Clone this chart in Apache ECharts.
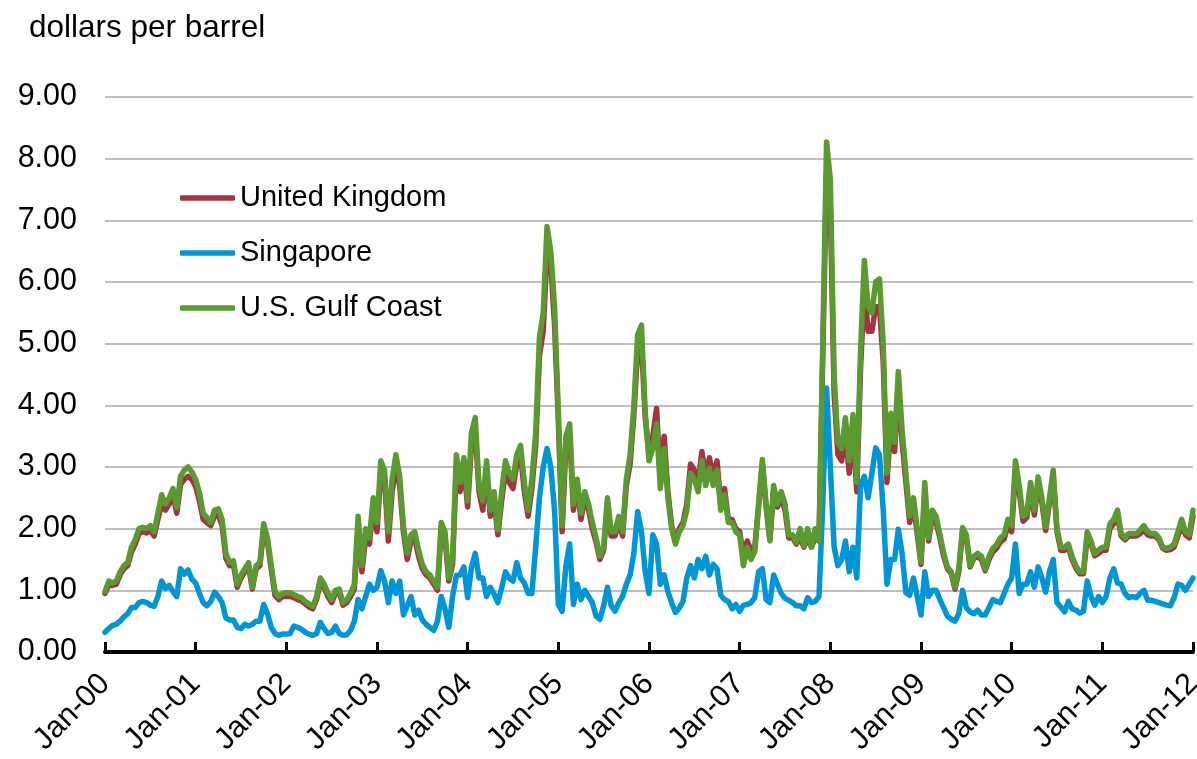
<!DOCTYPE html>
<html>
<head>
<meta charset="utf-8">
<title>Price spreads</title>
<script src="https://cdn.jsdelivr.net/npm/echarts@6/dist/echarts.min.js"></script>
<style>
  html, body { margin: 0; padding: 0; background: #ffffff; overflow: hidden; }
  #chart { width: 1197px; height: 759px; }
</style>
</head>
<body>
<div id="chart"></div>
<script>
// Semi-monthly readings (24 per year, starting 1 January), dollars per barrel.
const uk00 = [0.95,1.08,1.08,1.1,1.25,1.35,1.4,1.62,1.75,1.92,1.95,1.93,1.97,1.88,2.15,2.4,2.3,2.4,2.55,2.25,2.72,2.8,2.85,2.8];
const uk01 = [2.68,2.45,2.15,2.1,2.05,2.2,2.22,2.05,1.52,1.4,1.42,1.05,1.2,1.3,1.4,1.02,1.35,1.4,1.98,1.78,1.35,0.92,0.85,0.9];
const uk02 = [0.9,0.9,0.88,0.85,0.83,0.78,0.73,0.7,0.85,1.12,1.05,0.9,0.8,0.95,0.97,0.76,0.8,0.9,1.02,2.05,1.3,1.85,1.75,2.35];
const uk03 = [1.95,2.9,2.8,1.8,2.6,3.0,2.7,1.95,1.5,1.8,1.85,1.55,1.35,1.25,1.2,1.1,1.0,2.0,1.85,1.15,1.42,3.0,2.6,3.0];
const uk04 = [2.35,3.35,3.6,2.6,2.3,2.95,2.2,2.45,1.9,2.45,2.95,2.75,2.65,3.05,3.2,2.6,2.2,2.65,3.35,4.8,5.2,6.5,6.3,5.3];
const uk05 = [3.75,1.95,3.35,3.55,2.3,2.7,2.15,2.5,2.3,2.0,1.78,1.5,1.65,2.4,1.88,1.88,2.1,1.88,2.7,3.05,3.85,4.9,5.0,3.8];
const uk06 = [3.2,3.5,3.95,2.8,3.5,2.6,2.05,1.78,2.0,2.1,2.4,3.05,2.95,2.75,3.25,2.85,3.15,2.85,3.1,2.4,2.65,2.15,2.15,2.0];
const uk07 = [1.95,1.55,1.8,1.65,1.7,2.35,3.05,2.35,1.82,2.65,2.35,2.5,2.3,1.85,1.85,1.75,1.85,1.7,1.85,1.7,1.85,1.8,4.8,7.8];
const uk08 = [7.2,4.2,3.2,3.1,3.55,2.9,3.6,2.6,4.6,5.9,5.2,5.2,5.6,5.6,4.7,2.75,3.7,3.25,4.3,3.4,2.75,2.1,2.4,1.92];
const uk09 = [1.42,2.6,1.8,2.2,2.1,1.85,1.55,1.35,1.27,1.02,1.3,1.95,1.85,1.38,1.52,1.55,1.5,1.32,1.5,1.62,1.68,1.78,1.83,2.05];
const uk10 = [1.95,2.95,2.6,2.12,2.18,2.65,2.22,2.72,2.42,1.97,2.42,2.85,1.95,1.65,1.65,1.7,1.5,1.36,1.27,1.27,1.88,1.75,1.56,1.6];
const uk11 = [1.65,1.65,2.0,2.08,2.2,1.88,1.82,1.88,1.88,1.88,1.92,1.98,1.9,1.88,1.88,1.82,1.68,1.65,1.66,1.7,1.88,2.05,1.9,1.85];
const uk12 = [2.2];

const sg00 = [0.32,0.38,0.43,0.45,0.5,0.57,0.62,0.72,0.72,0.8,0.82,0.8,0.76,0.74,0.9,1.15,1.03,1.08,0.98,0.9,1.35,1.26,1.33,1.18];
const sg01 = [1.12,0.95,0.8,0.75,0.82,0.97,0.9,0.8,0.55,0.52,0.52,0.4,0.38,0.45,0.42,0.45,0.5,0.5,0.77,0.62,0.4,0.3,0.27,0.29];
const sg02 = [0.29,0.3,0.42,0.4,0.37,0.32,0.29,0.27,0.3,0.48,0.38,0.3,0.32,0.42,0.3,0.27,0.28,0.35,0.5,0.85,0.7,0.9,1.1,1.0];
const sg03 = [1.05,1.32,1.15,0.8,1.15,0.95,1.15,0.6,0.75,0.9,0.6,0.68,0.52,0.45,0.4,0.35,0.5,0.9,0.7,0.4,0.9,1.24,1.25,1.38];
const sg04 = [0.88,1.37,1.6,1.2,1.2,0.9,1.05,0.94,0.8,1.04,1.3,1.2,1.15,1.45,1.2,1.12,0.95,0.95,1.7,2.5,3.0,3.3,3.0,2.3];
const sg05 = [0.77,0.66,1.4,1.75,0.77,1.1,0.85,1.0,0.9,0.8,0.58,0.53,0.75,1.05,0.75,0.66,0.8,0.9,1.1,1.25,1.6,2.28,1.95,1.3];
const sg06 = [0.95,1.9,1.75,1.1,1.25,0.98,0.8,0.64,0.71,0.82,1.2,1.4,1.2,1.5,1.35,1.55,1.25,1.42,1.35,0.92,0.85,0.82,0.7,0.77];
const sg07 = [0.66,0.76,0.77,0.8,0.88,1.3,1.35,0.85,0.8,1.25,1.1,0.95,0.87,0.84,0.8,0.75,0.75,0.7,0.88,0.8,0.82,0.9,2.4,4.28];
const sg08 = [3.0,1.7,1.4,1.5,1.8,1.3,1.7,1.2,2.7,2.85,2.5,2.9,3.31,3.2,2.3,1.1,1.5,1.5,1.99,1.6,0.96,0.92,1.2,0.9];
const sg09 = [0.6,1.3,0.9,1.0,1.0,0.85,0.72,0.58,0.53,0.5,0.62,1.0,0.72,0.65,0.62,0.68,0.6,0.6,0.72,0.85,0.82,0.8,0.95,1.1];
const sg10 = [1.2,1.75,0.95,1.1,1.1,1.3,1.05,1.38,1.2,0.97,1.3,1.5,0.8,0.73,0.65,0.82,0.7,0.68,0.63,0.66,1.15,0.9,0.76,0.9];
const sg11 = [0.8,0.9,1.2,1.35,1.12,1.1,0.95,0.88,0.9,0.88,0.95,1.0,0.84,0.84,0.82,0.8,0.78,0.76,0.75,0.88,1.1,1.08,1.0,1.1];
const sg12 = [1.2];

const gc00 = [0.98,1.15,1.12,1.15,1.3,1.4,1.45,1.7,1.82,2.0,2.02,2.0,2.05,1.95,2.25,2.55,2.4,2.5,2.65,2.35,2.85,2.95,3.0,2.92];
const gc01 = [2.8,2.58,2.25,2.18,2.1,2.3,2.32,2.15,1.6,1.45,1.48,1.1,1.25,1.35,1.45,1.05,1.4,1.45,2.08,1.85,1.4,0.98,0.9,0.95];
const gc02 = [0.96,0.96,0.93,0.9,0.88,0.82,0.78,0.74,0.9,1.2,1.1,0.96,0.85,1.0,1.02,0.8,0.85,0.95,1.1,2.2,1.4,2.0,1.85,2.5];
const gc03 = [2.1,3.1,2.95,1.95,2.8,3.2,2.85,2.05,1.6,1.9,1.95,1.65,1.42,1.3,1.25,1.15,1.05,2.1,1.95,1.2,1.5,3.2,2.75,3.15];
const gc04 = [2.45,3.55,3.8,2.7,2.45,3.1,2.3,2.6,1.98,2.6,3.1,2.9,2.8,3.2,3.35,2.75,2.3,2.8,3.55,5.1,5.5,6.9,6.5,5.6];
const gc05 = [3.9,2.05,3.5,3.7,2.4,2.8,2.25,2.6,2.4,2.1,1.85,1.55,1.7,2.5,1.95,1.95,2.2,1.95,2.8,3.2,4.0,5.15,5.3,3.9];
const gc06 = [3.1,3.3,3.7,2.65,3.3,2.5,2.0,1.75,1.95,2.05,2.3,2.9,2.8,2.6,3.1,2.7,2.98,2.7,2.95,2.3,2.55,2.1,2.1,1.95];
const gc07 = [1.9,1.4,1.7,1.5,1.63,2.4,3.12,2.4,1.8,2.7,2.4,2.6,2.4,1.9,1.9,1.78,2.0,1.72,2.0,1.7,2.0,1.8,5.0,8.27];
const gc08 = [7.66,4.5,3.4,3.3,3.8,3.1,3.85,2.75,4.9,6.35,5.6,5.5,6.0,6.05,5.0,2.9,3.87,3.4,4.55,3.6,2.9,2.2,2.5,2.0];
const gc09 = [1.46,2.75,1.85,2.3,2.2,1.91,1.6,1.38,1.3,1.05,1.35,2.02,1.9,1.4,1.55,1.6,1.55,1.35,1.55,1.68,1.74,1.85,1.9,2.15];
const gc10 = [2.05,3.1,2.7,2.2,2.25,2.75,2.3,2.84,2.5,2.03,2.5,2.95,2.0,1.7,1.7,1.75,1.55,1.4,1.3,1.3,1.95,1.8,1.6,1.65];
const gc11 = [1.7,1.7,2.08,2.15,2.3,1.92,1.85,1.92,1.92,1.92,1.98,2.05,1.95,1.92,1.92,1.85,1.7,1.68,1.7,1.75,1.95,2.15,1.95,1.9];
const gc12 = [2.3];

const seriesNames = ['United Kingdom', 'Singapore', 'U.S. Gulf Coast'];
const seriesColors = ['#A33543', '#0096D6', '#5A9A30'];
const yAxisTitle = 'dollars per barrel';
const firstYear = 2000;
const lastYear = 2012;

const ukAll = [].concat(uk00, uk01, uk02, uk03, uk04, uk05, uk06, uk07, uk08, uk09, uk10, uk11, uk12);
const sgAll = [].concat(sg00, sg01, sg02, sg03, sg04, sg05, sg06, sg07, sg08, sg09, sg10, sg11, sg12);
const gcAll = [].concat(gc00, gc01, gc02, gc03, gc04, gc05, gc06, gc07, gc08, gc09, gc10, gc11, gc12);

// x position in fractional years: one reading every half month
const toPoints = vals => vals.map((v, i) => [firstYear + i / 24, v]);

const FONT = '"Liberation Sans", Arial, sans-serif';
const LINE_WIDTH = 5.5;
const chart = echarts.init(document.getElementById('chart'), null, { renderer: 'canvas' });

chart.setOption({
  animation: false,
  backgroundColor: '#ffffff',
  textStyle: { fontFamily: FONT, color: '#000000' },
  title: {
    text: yAxisTitle,
    left: 29,
    top: 12,
    padding: 0,
    textStyle: { fontFamily: FONT, fontSize: 31.5, fontWeight: 'normal', color: '#000000' }
  },
  legend: {
    orient: 'vertical',
    left: 180,
    top: 183,
    padding: 0,
    icon: 'roundRect',
    itemWidth: 55,
    itemHeight: 5.5,
    itemGap: 25,
    data: seriesNames,
    textStyle: { fontFamily: FONT, fontSize: 29, color: '#000000', lineHeight: 30 }
  },
  grid: { left: 105, right: 4, top: 97, bottom: 107, containLabel: false, outerBoundsMode: 'none' },
  xAxis: {
    type: 'value',
    min: firstYear,
    max: lastYear,
    interval: 1,
    axisLine: { show: true, lineStyle: { color: '#000000', width: 4 } },
    axisTick: { show: true, inside: true, length: 10, lineStyle: { color: '#000000', width: 3 } },
    splitLine: { show: false },
    axisLabel: {
      rotate: 45,
      margin: 27,
      fontFamily: FONT,
      fontSize: 30.5,
      color: '#000000',
      showMinLabel: true,
      showMaxLabel: true,
      hideOverlap: false,
      formatter: v => 'Jan-' + String(Math.round(v) % 100).padStart(2, '0')
    }
  },
  yAxis: {
    type: 'value',
    min: 0,
    max: 9,
    interval: 1,
    axisLine: { show: false },
    axisTick: { show: false },
    splitLine: { show: true, lineStyle: { color: '#BFBFBF', width: 2 } },
    axisLabel: {
      margin: 28,
      fontFamily: FONT,
      fontSize: 30.5,
      color: '#000000',
      formatter: v => v.toFixed(2)
    }
  },
  series: [
    { name: seriesNames[0], data: toPoints(ukAll), color: seriesColors[0] },
    { name: seriesNames[1], data: toPoints(sgAll), color: seriesColors[1] },
    { name: seriesNames[2], data: toPoints(gcAll), color: seriesColors[2] }
  ].map(s => ({
    type: 'line',
    name: s.name,
    data: s.data,
    symbol: 'none',
    showSymbol: false,
    smooth: false,
    clip: true,
    color: s.color,
    itemStyle: { color: s.color },
    lineStyle: { color: s.color, width: LINE_WIDTH, join: 'round', cap: 'round' }
  }))
});
</script>
</body>
</html>
